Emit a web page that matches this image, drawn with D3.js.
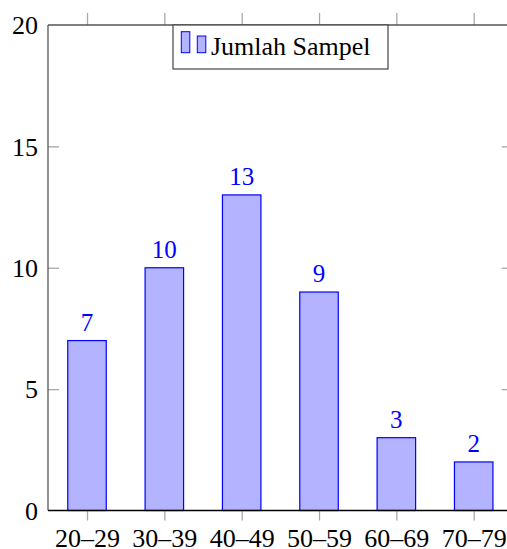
<!DOCTYPE html>
<html><head><meta charset="utf-8">
<script src="https://cdn.jsdelivr.net/npm/d3@7"></script>
<style>
body{margin:0;background:#fff;}
svg{display:block;}
</style></head>
<body><svg id="c" width="507" height="549"></svg>
<script>
const categories = ["20–29","30–39","40–49","50–59","60–69","70–79"];
const values = [7,10,13,9,3,2];
const yTicks = [0,5,10,15,20];
const seriesName = "Jumlah Sampel";

const FONT = "'Liberation Serif'";
const svg = d3.select("#c");
const L = 48, R = 512.7, T = 25, B = 510.5;
const x = d3.scalePoint().domain(categories).range([L + 39, R - 39]);
const y = d3.scaleLinear().domain([0,20]).range([B, T]);
const bw = 38.5;

svg.selectAll("rect.bar").data(values).enter().append("rect")
  .attr("class","bar")
  .attr("x",(d,i)=>x(categories[i]) - bw/2)
  .attr("y",d=>y(d))
  .attr("width",bw)
  .attr("height",d=>B - y(d))
  .attr("fill","#b3b3ff")
  .attr("stroke","#0000ff")
  .attr("stroke-width",1.2);

svg.selectAll("text.val").data(values).enter().append("text")
  .attr("class","val")
  .attr("x",(d,i)=>x(categories[i]))
  .attr("y",d=>y(d) - 10)
  .attr("text-anchor","middle")
  .attr("fill","#0000ff")
  .attr("font-family",FONT)
  .attr("font-size",25)
  .text(d=>d);

const tickCol = "#a8a8a8";
const gB = svg.append("g").attr("transform",`translate(0,${B})`)
  .call(d3.axisBottom(x).tickSize(10).tickPadding(8));
const gT = svg.append("g").attr("transform",`translate(0,${T})`)
  .call(d3.axisTop(x).tickSize(12).tickFormat(""));
const gL = svg.append("g").attr("transform",`translate(${L},0)`)
  .call(d3.axisRight(y).tickValues(yTicks).tickSize(11).tickFormat(""));
const gR = svg.append("g").attr("transform",`translate(${R},0)`)
  .call(d3.axisLeft(y).tickValues(yTicks).tickSize(11).tickFormat(""));
const gLab = svg.append("g").attr("transform",`translate(${L},0)`)
  .call(d3.axisLeft(y).tickValues(yTicks).tickSize(0).tickPadding(10));

[gB,gT,gL,gR,gLab].forEach(g=>{
  g.attr("font-family",FONT).attr("font-size",26);
  g.select(".domain").remove();
  g.selectAll(".tick line").attr("stroke",tickCol).attr("stroke-width",1.3);
  g.selectAll(".tick text").attr("fill","#000");
});
gLab.selectAll(".tick text").attr("dy","0.34em");
gL.selectAll(".tick").filter(d=>d===0||d===20).remove();
gR.selectAll(".tick").filter(d=>d===0||d===20).remove();

svg.append("line").attr("x1",L).attr("x2",R).attr("y1",T).attr("y2",T).attr("stroke","#555").attr("stroke-width",1.3);
svg.append("line").attr("x1",L).attr("x2",L).attr("y1",T).attr("y2",B).attr("stroke","#555").attr("stroke-width",1.3);
svg.append("line").attr("x1",R).attr("x2",R).attr("y1",T).attr("y2",B).attr("stroke","#555").attr("stroke-width",1.3);
svg.append("line").attr("x1",L).attr("x2",R).attr("y1",B).attr("y2",B).attr("stroke","#000").attr("stroke-width",1.3);

const lg = svg.append("g");
lg.append("rect").attr("x",173).attr("y",25).attr("width",215).attr("height",44)
  .attr("fill","#fff").attr("stroke","#444").attr("stroke-width",1.2);
lg.append("rect").attr("x",181.3).attr("y",31.7).attr("width",8.5).attr("height",21)
  .attr("fill","#b3b3ff").attr("stroke","#0000ff").attr("stroke-width",1);
lg.append("rect").attr("x",197.3).attr("y",36).attr("width",8.5).attr("height",16.7)
  .attr("fill","#b3b3ff").attr("stroke","#0000ff").attr("stroke-width",1);
lg.append("text").attr("x",211).attr("y",55).attr("font-size",26).attr("fill","#000")
  .attr("font-family",FONT).text(seriesName);
</script></body></html>
